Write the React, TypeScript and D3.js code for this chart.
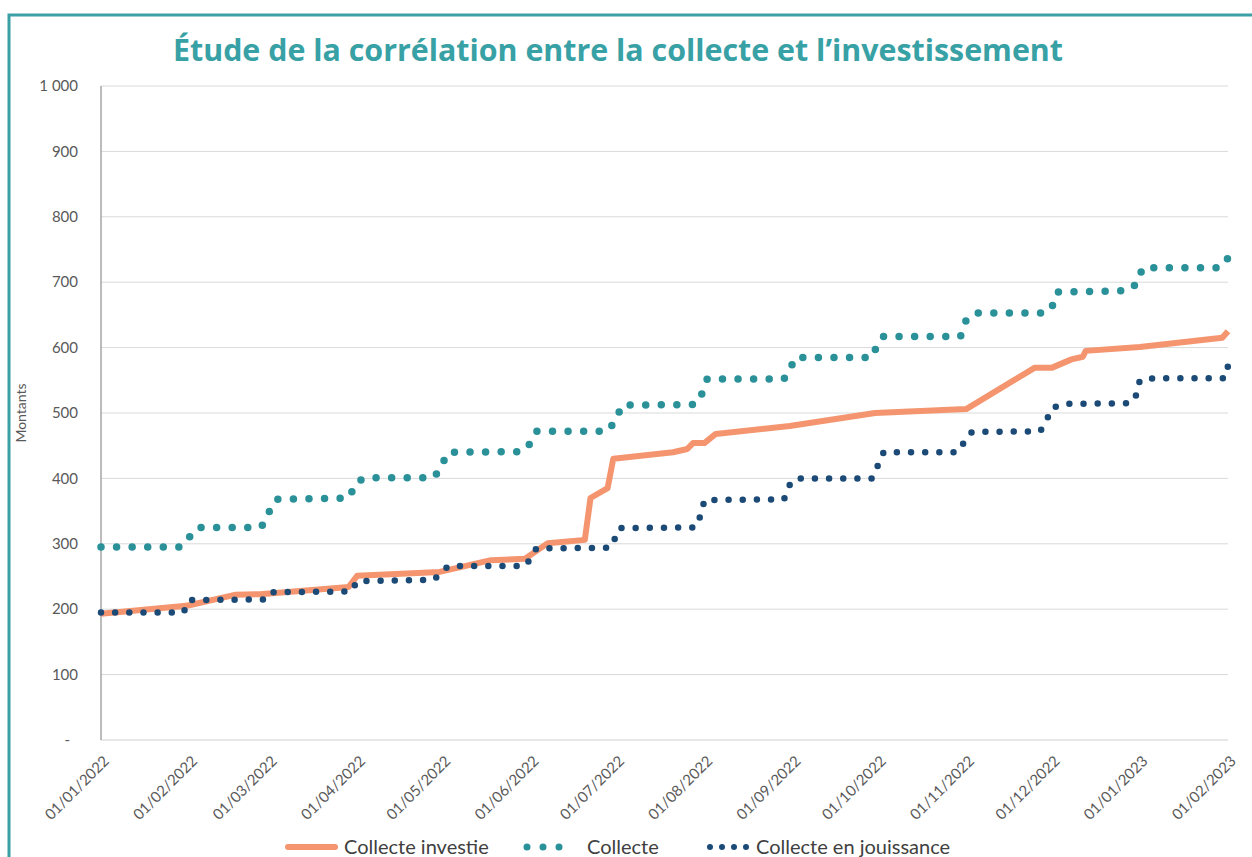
import React from "react";
import * as d3 from "d3";

// values
const investieDates = [
  "2022-01-01", "2022-01-30", "2022-02-01", "2022-02-17", "2022-02-26", "2022-03-29",
  "2022-04-01", "2022-04-30", "2022-05-18", "2022-05-30", "2022-06-07", "2022-06-20",
  "2022-06-22", "2022-06-28", "2022-06-30", "2022-07-21", "2022-07-26", "2022-07-28",
  "2022-08-01", "2022-08-05", "2022-08-31", "2022-09-30", "2022-11-01", "2022-11-25",
  "2022-12-01", "2022-12-08", "2022-12-12", "2022-12-13", "2023-01-01", "2023-01-30",
  "2023-02-01",
];
const investieValues = [
  193, 205, 206, 222, 223, 234,
  251, 257, 275, 277, 301, 306,
  370, 385, 430, 440, 445, 454,
  454, 468, 480, 500, 506, 569,
  569, 582, 586, 595, 601, 615,
  625,
];

const collecteDates = [
  "2022-01-01", "2022-01-29", "2022-02-01", "2022-02-04", "2022-02-26", "2022-02-28",
  "2022-03-02", "2022-03-04", "2022-03-29", "2022-04-01", "2022-04-04", "2022-04-28",
  "2022-04-30", "2022-05-03", "2022-05-29", "2022-05-31", "2022-06-03", "2022-06-28",
  "2022-07-01", "2022-07-03", "2022-07-29", "2022-07-31", "2022-08-02", "2022-08-29",
  "2022-08-31", "2022-09-02", "2022-09-29", "2022-10-01", "2022-10-03", "2022-10-30",
  "2022-11-01", "2022-11-04", "2022-11-29", "2022-12-01", "2022-12-03", "2022-12-28",
  "2022-12-31", "2023-01-02", "2023-01-29", "2023-02-01",
];
const collecteValues = [
  295, 295, 310, 325, 325, 335,
  360, 368, 370, 395, 401, 401,
  414, 440, 441, 448, 472, 472,
  490, 512, 513, 528, 552, 552,
  566, 585, 585, 607, 617, 617,
  642, 653, 653, 660, 685, 687,
  698, 722, 722, 737,
];

const jouissanceDates = [
  "2022-01-01", "2022-01-30", "2022-02-01", "2022-02-27", "2022-03-01", "2022-03-30",
  "2022-04-01", "2022-04-28", "2022-04-30", "2022-05-03", "2022-05-30", "2022-06-01",
  "2022-06-03", "2022-06-29", "2022-06-30", "2022-07-02", "2022-07-29", "2022-07-31",
  "2022-08-01", "2022-08-29", "2022-08-31", "2022-09-02", "2022-09-29", "2022-10-01",
  "2022-10-03", "2022-10-29", "2022-11-01", "2022-11-03", "2022-11-27", "2022-11-29",
  "2022-12-01", "2022-12-05", "2022-12-29", "2022-12-31", "2023-01-01", "2023-01-06",
  "2023-01-31", "2023-02-01",
];
const jouissanceValues = [
  195, 195, 214, 215, 226, 227,
  243, 245, 254, 266, 266, 278,
  293, 294, 302, 324, 325, 347,
  367, 368, 390, 400, 400, 420,
  440, 440, 460, 471, 472, 486,
  507, 514, 515, 529, 550, 553,
  553, 572,
];

const tickDates = [
  "2022-01-01", "2022-02-01", "2022-03-01", "2022-04-01", "2022-05-01", "2022-06-01",
  "2022-07-01", "2022-08-01", "2022-09-01", "2022-10-01", "2022-11-01", "2022-12-01",
  "2023-01-01", "2023-02-01",
];
const yTicks = [0, 100, 200, 300, 400, 500, 600, 700, 800, 900, 1000];
const yTickLabels = ["-", "100", "200", "300", "400", "500", "600", "700", "800", "900", "1 000"];

const seriesNames = ["Collecte investie", "Collecte", "Collecte en jouissance"];

const W = 1252;
const H = 857;
const FONT = "Lato, 'Noto Sans', sans-serif";
const ORANGE = "#f4956f";
const TEAL = "#2a9199";
const NAVY = "#1c4a76";
const TITLE = "#37a1a5";
const LABEL = "#595959";

const parse = d3.timeParse("%Y-%m-%d");
const fmt = d3.timeFormat("%d/%m/%Y");

type Pt = { d: Date; v: number };
const toPts = (dates: string[], vals: number[]): Pt[] =>
  dates.map((s, i) => ({ d: parse(s) as Date, v: vals[i] }));

const App = () => {
  const left = 101;
  const right = 1228;
  const top = 86;
  const bottom = 740;

  const x = d3
    .scaleTime()
    .domain([parse("2022-01-01") as Date, parse("2023-02-01") as Date])
    .range([left, right]);
  const y = d3.scaleLinear().domain([0, 1000]).range([bottom, top]);

  const line = d3
    .line<Pt>()
    .x((p) => x(p.d))
    .y((p) => y(p.v));

  const investie = toPts(investieDates, investieValues);
  const collecte = toPts(collecteDates, collecteValues);
  const jouissance = toPts(jouissanceDates, jouissanceValues);

  // fit the dot spacing so a dot lands on the last point
  const gap = (pts: Pt[], step: number) => {
    let len = 0;
    for (let i = 1; i < pts.length; i++) {
      len += Math.hypot(x(pts[i].d) - x(pts[i - 1].d), y(pts[i].v) - y(pts[i - 1].v));
    }
    return `0 ${len / Math.round(len / step) - 0.01}`;
  };

  const ticks = tickDates.map((s) => parse(s) as Date);

  const legendY = 847;

  return (
    <svg
      width={W}
      height={H}
      style={{ position: "absolute", left: 0, top: 0, background: "#fff" }}
      fontFamily={FONT}
    >
      {/* frame */}
      <rect x={9} y={15} width={1300} height={900} fill="none" stroke="#3aa0a5" strokeWidth={3} />

      <text
        x={618}
        y={61}
        textAnchor="middle"
        fontSize={30}
        fontWeight={700}
        fill={TITLE}
        fontFamily="'Open Sans', 'Noto Sans', sans-serif"
        textLength={890}
        lengthAdjust="spacingAndGlyphs"
      >
        Étude de la corrélation entre la collecte et l’investissement
      </text>

      {/* gridlines + y labels */}
      {yTicks.map((t, i) => (
        <g key={t}>
          {t > 0 && (
            <line x1={left} x2={right} y1={y(t)} y2={y(t)} stroke="#d9d9d9" strokeWidth={1} />
          )}
          <text
            x={i === 0 ? 70 : 78}
            y={y(t)}
            dy="0.35em"
            textAnchor="end"
            fontSize={15}
            fill={LABEL}
          >
            {yTickLabels[i]}
          </text>
        </g>
      ))}
      <line x1={left} x2={right} y1={bottom} y2={bottom} stroke="#d0d0d0" strokeWidth={1} />
      <line x1={left} x2={left} y1={top} y2={bottom} stroke="#a6a6a6" strokeWidth={1.5} />

      <text
        transform={`translate(26, ${(top + bottom) / 2}) rotate(-90)`}
        textAnchor="middle"
        fontSize={14}
        fill={LABEL}
      >
        Montants
      </text>

      {/* x labels */}
      {ticks.map((t) => (
        <text
          key={t.getTime()}
          transform={`translate(${x(t) + 9}, ${bottom + 22}) rotate(-45)`}
          textAnchor="end"
          fontSize={15}
          fill={LABEL}
        >
          {fmt(t)}
        </text>
      ))}

      {/* series */}
      <path d={line(investie) ?? ""} fill="none" stroke={ORANGE} strokeWidth={6} strokeLinejoin="round" />
      <path
        d={line(collecte) ?? ""}
        fill="none"
        stroke={TEAL}
        strokeWidth={7.5}
        strokeLinecap="round"
        strokeDasharray={gap(collecte, 15.6)}
      />
      <path
        d={line(jouissance) ?? ""}
        fill="none"
        stroke={NAVY}
        strokeWidth={6.5}
        strokeLinecap="round"
        strokeDasharray={gap(jouissance, 14.2)}
      />

      {/* legend */}
      <line x1={288} x2={335} y1={legendY} y2={legendY} stroke={ORANGE} strokeWidth={6} strokeLinecap="round" />
      <text x={344} y={legendY} dy="0.35em" fontSize={20} fill="#404040">
        {seriesNames[0]}
      </text>
      <line
        x1={527}
        x2={562}
        y1={legendY}
        y2={legendY}
        stroke={TEAL}
        strokeWidth={7}
        strokeLinecap="round"
        strokeDasharray="0 16"
      />
      <text x={587} y={legendY} dy="0.35em" fontSize={20} fill="#404040">
        {seriesNames[1]}
      </text>
      <line
        x1={710}
        x2={748}
        y1={legendY}
        y2={legendY}
        stroke={NAVY}
        strokeWidth={6}
        strokeLinecap="round"
        strokeDasharray="0 12"
      />
      <text x={756} y={legendY} dy="0.35em" fontSize={20} fill="#404040">
        {seriesNames[2]}
      </text>
    </svg>
  );
};

export default App;
